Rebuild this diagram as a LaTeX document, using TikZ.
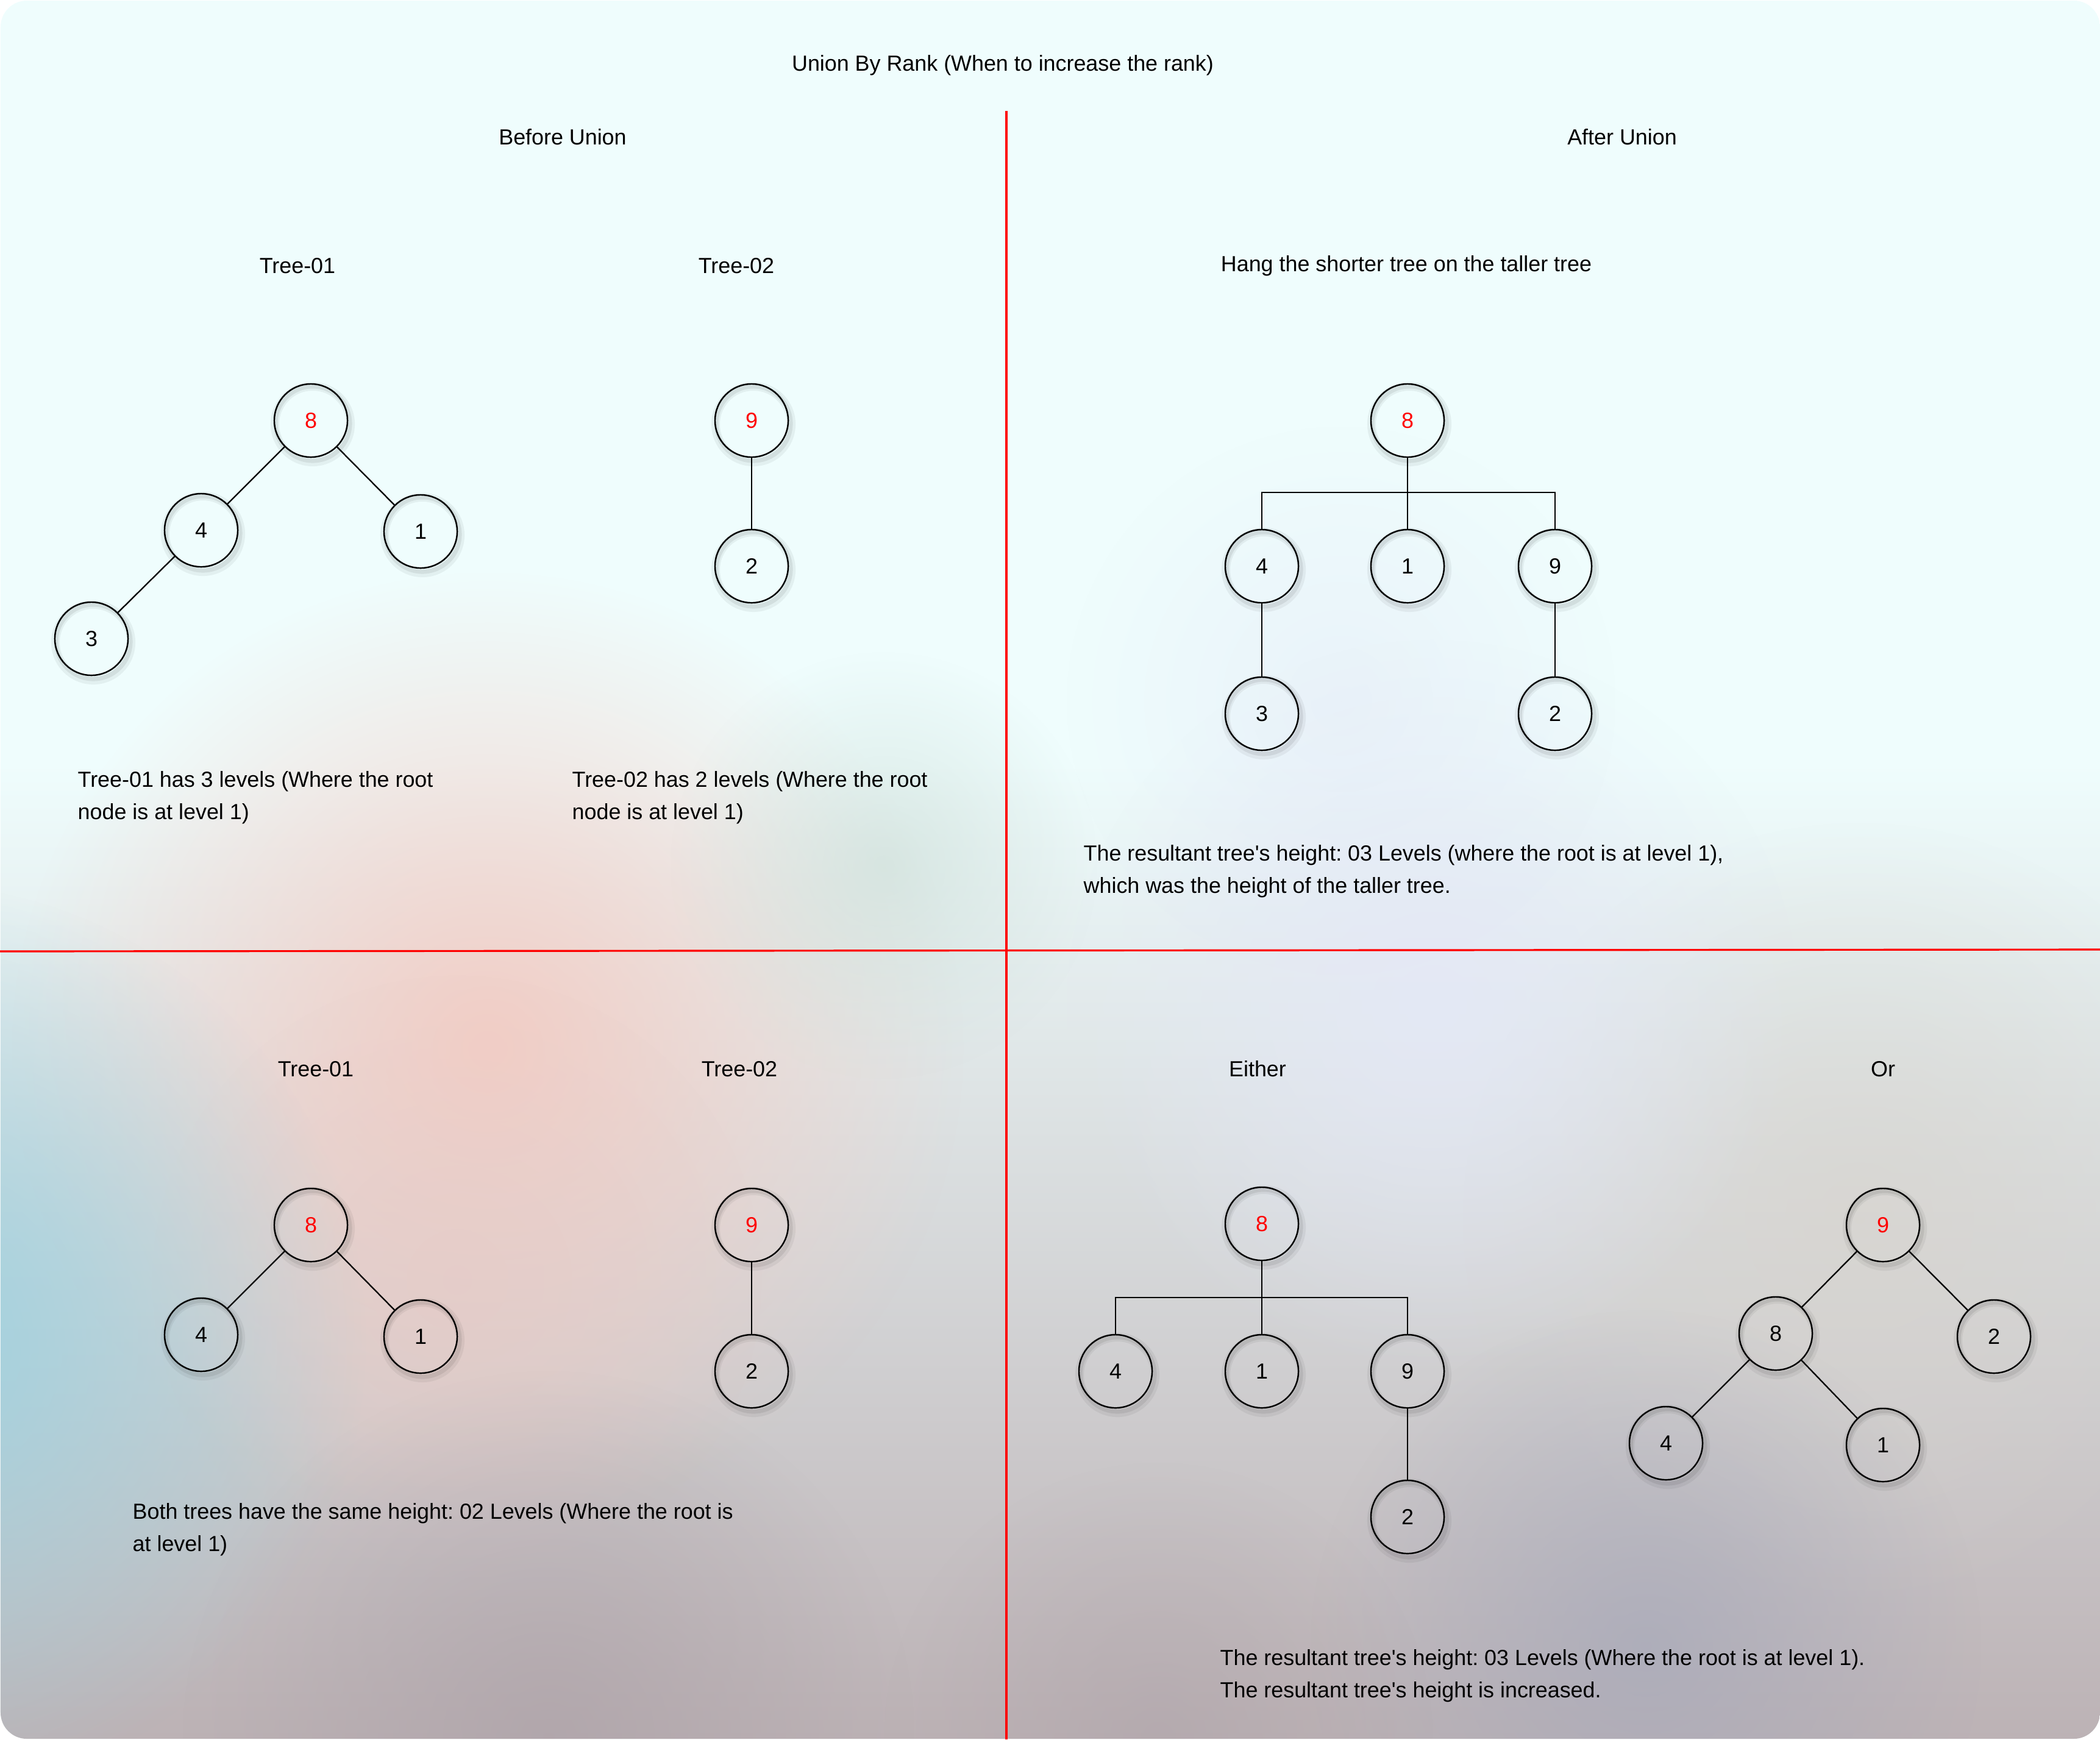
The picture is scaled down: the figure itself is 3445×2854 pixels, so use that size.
\documentclass[tikz,border=0pt]{standalone}
\usepackage{fontspec}
\setmainfont{Liberation Sans}
\usetikzlibrary{fadings}
\tikzfading[name=blobfade, inner color=transparent!0, outer color=transparent!100]
\pgfdeclarelayer{backlayer}
\pgfdeclarelayer{shadowlayer}
\pgfsetlayers{backlayer,shadowlayer,main}
\definecolor{bgtop}{HTML}{EFFDFD}
\definecolor{bgbot}{HTML}{BCB2B5}
\definecolor{blobpink}{HTML}{F3CEC6}
\definecolor{blobpinkb}{HTML}{E6CAC6}
\definecolor{blobblue}{HTML}{9FD2E0}
\definecolor{bloblav}{HTML}{E4E8F6}
\definecolor{blobgreen}{HTML}{CFE0DA}
\definecolor{blobslate}{HTML}{A8AABA}
\definecolor{blobmauve}{HTML}{ADA2A8}
\definecolor{blobwarm}{HTML}{D8D4CE}
\newcommand\fsz{\fontsize{10.2pt}{15pt}\selectfont\frenchspacing}
\newcommand\apo{\textquotesingle}
\tikzset{
  tn/.style={circle, draw=black, line width=0.7pt, minimum size=1.2cm, inner sep=0pt, font=\fsz, text=black},
  rootn/.style={tn, text=red},
  lbl/.style={inner sep=0pt, font=\fsz, text=black},
  ml/.style={lbl, align=left, anchor=west},
  treeedge/.style={draw=black, line width=0.65pt},
  divider/.style={draw=red, line width=0.9pt},
  shadowringa/.style={draw=black, draw opacity=0.05, line width=4pt},
  shadowringb/.style={draw=black, draw opacity=0.07, line width=2pt}
}
\begin{document}
\frenchspacing
\begin{tikzpicture}[x=0.01cm,y=-0.01cm]
\useasboundingbox (0,0) rectangle (3445,2854);
% background
\begin{pgfonlayer}{backlayer}
\begin{scope}
\clip[rounded corners=0.43cm] (1,1) rectangle (3445,2853);
\fill[bgtop] (0,0) rectangle (3445,2854);
\shade[top color=bgtop, bottom color=bgbot] (0,1250) rectangle (3445,2854);
\fill[blobwarm, opacity=0.7, path fading=blobfade] (3050,2000) circle (6.5cm);
\fill[bloblav, opacity=0.9, path fading=blobfade] (2350,1650) circle (6cm);
\fill[bloblav, opacity=0.5, path fading=blobfade] (2200,1150) circle (4.5cm);
\fill[blobpink, opacity=1, path fading=blobfade] (800,1720) circle (7.8cm);
\fill[blobpinkb, opacity=0.6, path fading=blobfade] (750,2100) circle (5cm);
\fill[blobgreen, opacity=0.7, path fading=blobfade] (1450,1420) circle (3.5cm);
\fill[blobblue, opacity=1, path fading=blobfade] (-150,2200) circle (7.5cm);
\fill[blobslate, opacity=0.75, path fading=blobfade] (2700,2700) circle (5.5cm);
\fill[blobmauve, opacity=0.7, path fading=blobfade] (900,2850) circle (6cm);
\fill[blobmauve, opacity=0.5, path fading=blobfade] (1900,2850) circle (4.5cm);
\end{scope}
\end{pgfonlayer}
% dividers
\coordinate (vtop) at (1651,182);
\coordinate (vbot) at (1651,2854);
\coordinate (hleft) at (0,1561);
\coordinate (hright) at (3445,1558);
\draw[divider] (vtop) -- (vbot);
\draw[divider] (hleft) -- (hright);
% headings
\node[lbl] (title) at (1645,107) {Union By Rank (When to increase the rank)};
\node[lbl] (before) at (923,225) {Before Union};
\node[lbl] (after) at (2661,225) {After Union};
\node[lbl] (lt1) at (488,436) {Tree-01};
\node[lbl] (lt2) at (1208,436) {Tree-02};
\node[lbl] (hang) at (2307,436) {Hang the shorter tree on the taller tree};
\node[lbl] (lt3) at (518,1754) {Tree-01};
\node[lbl] (lt4) at (1213,1754) {Tree-02};
\node[lbl] (either) at (2063,1754) {Either};
\node[lbl] (orr) at (3089,1754) {Or};
% descriptions
\node[ml] (d1) at (127,1309) {Tree-01 has 3 levels (Where the root\\node is at level 1)};
\node[ml] (d2) at (938,1309) {Tree-02 has 2 levels (Where the root\\node is at level 1)};
\node[ml] (d3) at (1777,1430) {The resultant tree\apo s height: 03 Levels (where the root is at level 1),\\which was the height of the taller tree.};
\node[ml] (d4) at (217,2510) {Both trees have the same height: 02 Levels (Where the root is\\at level 1)};
\node[ml] (d5) at (2001,2750) {The resultant tree\apo s height: 03 Levels (Where the root is at level 1).\\The resultant tree\apo s height is increased.};
% top-left trees
\node[rootn] (a8) at (510,690) {8};
\node[tn] (a4) at (330,870) {4};
\node[tn] (a1) at (690,872) {1};
\node[tn] (a3) at (150,1048) {3};
\node[rootn] (b9) at (1233,690) {9};
\node[tn] (b2) at (1233,929) {2};
\draw[treeedge] (a8) -- (a4);
\draw[treeedge] (a8) -- (a1);
\draw[treeedge] (a4) -- (a3);
\draw[treeedge] (b9) -- (b2);
% top-right tree
\node[rootn] (c8) at (2309,690) {8};
\node[tn] (c4) at (2070,929) {4};
\node[tn] (c1) at (2309,929) {1};
\node[tn] (c9) at (2551,929) {9};
\node[tn] (c3) at (2070,1171) {3};
\node[tn] (c2) at (2551,1171) {2};
\coordinate (cbus) at (2309,808);
\draw[treeedge] (c8) -- (c1);
\draw[treeedge] (c4) |- (cbus) -| (c9);
\draw[treeedge] (c4) -- (c3);
\draw[treeedge] (c9) -- (c2);
% bottom-left trees
\node[rootn] (e8) at (510,2010) {8};
\node[tn] (e4) at (330,2190) {4};
\node[tn] (e1) at (690,2193) {1};
\node[rootn] (f9) at (1233,2010) {9};
\node[tn] (f2) at (1233,2250) {2};
\draw[treeedge] (e8) -- (e4);
\draw[treeedge] (e8) -- (e1);
\draw[treeedge] (f9) -- (f2);
% bottom-right: either
\node[rootn] (g8) at (2070,2008) {8};
\node[tn] (g4) at (1830,2250) {4};
\node[tn] (g1) at (2070,2250) {1};
\node[tn] (g9) at (2309,2250) {9};
\node[tn] (g2) at (2309,2489) {2};
\coordinate (gbus) at (2070,2129);
\draw[treeedge] (g8) -- (g1);
\draw[treeedge] (g4) |- (gbus) -| (g9);
\draw[treeedge] (g9) -- (g2);
% bottom-right: or
\node[rootn] (h9) at (3089,2010) {9};
\node[tn] (h8) at (2913,2188) {8};
\node[tn] (h2) at (3271,2193) {2};
\node[tn] (h4) at (2733,2368) {4};
\node[tn] (h1) at (3089,2371) {1};
\draw[treeedge] (h9) -- (h8);
\draw[treeedge] (h9) -- (h2);
\draw[treeedge] (h8) -- (h4);
\draw[treeedge] (h8) -- (h1);
% soft node shadows
\begin{pgfonlayer}{shadowlayer}
\foreach \n in {a8,a4,a1,a3,b9,b2,c8,c4,c1,c9,c3,c2,e8,e4,e1,f9,f2,g8,g4,g1,g9,g2,h9,h8,h2,h4,h1}{
  \draw[shadowringa] ([shift={(3,6)}]\n.center) circle (0.62cm);
  \draw[shadowringb] ([shift={(3,5)}]\n.center) circle (0.61cm);
}
\end{pgfonlayer}
\end{tikzpicture}
\end{document}
